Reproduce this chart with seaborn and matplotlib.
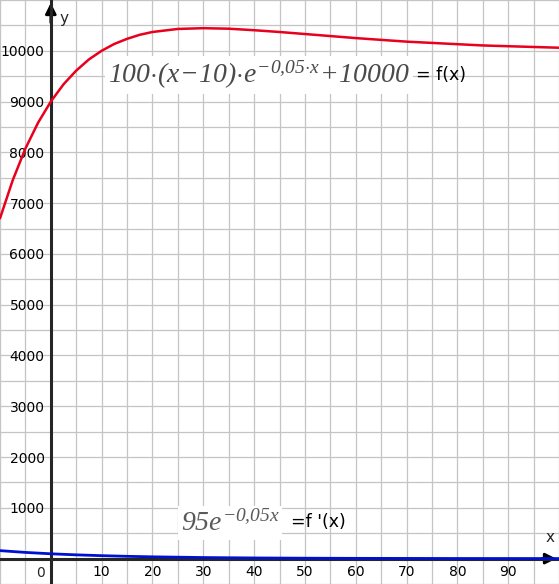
import matplotlib
matplotlib.use("Agg")
import matplotlib.pyplot as plt
import seaborn as sns
import pandas as pd

# values
x_f = [-10, -7.5, -5, -2.5, 0, 2.5, 5, 7.5, 10, 12.5, 15, 17.5, 20, 25, 30, 35, 40,
       45, 50, 55, 60, 65, 70, 75, 80, 85, 90, 95, 100]
f_vals = [6700, 7450, 8075, 8585, 9000, 9340, 9610, 9830, 10000, 10135, 10235, 10315,
          10370, 10430, 10445, 10435, 10405, 10370, 10330, 10290, 10250, 10215,
          10180, 10155, 10130, 10105, 10090, 10075, 10060]
x_d = [-10, -5, 0, 5, 10, 15, 20, 30, 40, 50, 60, 80, 100]
d_vals = [157, 122, 95, 74, 58, 45, 35, 21, 13, 8, 5, 2, 1]

x_ticks = [10, 20, 30, 40, 50, 60, 70, 80, 90]
y_ticks = [1000, 2000, 3000, 4000, 5000, 6000, 7000, 8000, 9000, 10000]

sns.set_style("white")
plt.rcParams['font.family'] = ['DejaVu Sans']
plt.rcParams['mathtext.fontset'] = 'custom'
plt.rcParams['mathtext.it'] = 'Liberation Serif:italic'
plt.rcParams['mathtext.rm'] = 'Liberation Serif:italic'

fig = plt.figure(figsize=(5.59, 5.84), dpi=100)
ax = fig.add_axes([0, 0, 1, 1])

df_f = pd.DataFrame({'x': x_f, 'y': f_vals})
df_d = pd.DataFrame({'x': x_d, 'y': d_vals})

ax.set_xlim(-10, 100)
ax.set_ylim(-410, 11000)

ax.set_xticks(range(-10, 101, 5), minor=True)
ax.set_yticks(range(-500, 11001, 500), minor=True)
ax.grid(True, which='both', color='#c4c4c4', linewidth=0.9)
ax.set_axisbelow(True)

for s in ['top', 'right']:
    ax.spines[s].set_visible(False)
ax.spines['left'].set_position(('data', 0))
ax.spines['bottom'].set_position(('data', 0))
ax.spines['left'].set_linewidth(2.2)
ax.spines['bottom'].set_linewidth(2.2)
ax.spines['left'].set_zorder(3)
ax.spines['bottom'].set_zorder(3)

ax.set_xticks(x_ticks)
ax.set_yticks(y_ticks)
ax.set_xticklabels([str(v) for v in x_ticks])
ax.set_yticklabels([str(v) for v in y_ticks])
ax.tick_params(which='major', direction='inout', length=7, width=1.6, labelsize=10,
               colors='black', pad=1)
ax.tick_params(which='minor', length=0)
ax.text(-1.2, -140, "0", fontsize=10, ha='right', va='top')

# arrows on the axes
ax.annotate("", xy=(0, 11000), xytext=(0, 10500),
            arrowprops=dict(arrowstyle='-|>', color='black', lw=2, mutation_scale=16))
ax.annotate("", xy=(100, 0), xytext=(96, 0),
            arrowprops=dict(arrowstyle='-|>', color='black', lw=2, mutation_scale=16))
ax.text(2.6, 10640, "y", fontsize=11, ha='center', va='center')
ax.text(98.3, 420, "x", fontsize=11, ha='center', va='center')

sns.lineplot(data=df_f, x='x', y='y', ax=ax, color='#e8001c', linewidth=1.8, zorder=4)
sns.lineplot(data=df_d, x='x', y='y', ax=ax, color='#0010d0', linewidth=2, zorder=4)
ax.set_xlabel("")
ax.set_ylabel("")

ax.text(11.3, 9531, r"$100{\cdot}(x\!-\!10){\cdot}e^{-0{,}05{\cdot}x}\!+\!10000$",
        fontsize=20, color='#4a4a4a', ha='left', va='center', zorder=5,
        bbox=dict(facecolor='white', edgecolor='none', pad=2))
ax.text(71.8, 9531, "= f(x)", fontsize=12.5, color='black', ha='left', va='center', zorder=5)

ax.text(25.6, 700, r"$95e^{-0{,}05x}$", fontsize=20, color='#5a5a5a', ha='left',
        va='center', zorder=5, bbox=dict(facecolor='white', edgecolor='none', pad=2))
ax.text(47.3, 723, "=f '(x)", fontsize=12.5, color='black', ha='left', va='center', zorder=5)

fig.savefig("out.png", dpi=100)
